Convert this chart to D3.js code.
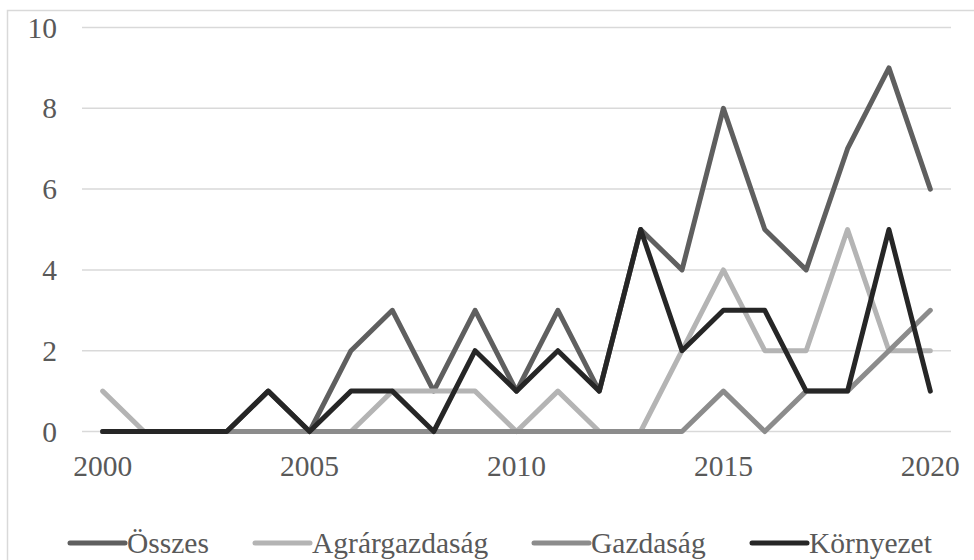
<!DOCTYPE html>
<html>
<head>
<meta charset="utf-8">
<script src="https://cdn.jsdelivr.net/npm/d3@7"></script>
<style>
  body { margin: 0; background: #fff; }
  text { font-family: "Liberation Serif", "Times New Roman", serif; fill: #595959; }
</style>
</head>
<body>
<svg id="chart" width="974" height="560"></svg>
<script>
// data
var years = d3.range(2000, 2021);
var xTickLabels = [2000, 2005, 2010, 2015, 2020];
var yTicks = [0, 2, 4, 6, 8, 10];

var osszes       = [0, 0, 0, 0, 1, 0, 2, 3, 1, 3, 1, 3, 1, 5, 4, 8, 5, 4, 7, 9, 6];
var agrargazdasag = [1, 0, 0, 0, 0, 0, 0, 1, 1, 1, 0, 1, 0, 0, 2, 4, 2, 2, 5, 2, 2];
var gazdasag     = [0, 0, 0, 0, 0, 0, 0, 0, 0, 0, 0, 0, 0, 0, 0, 1, 0, 1, 1, 2, 3];
var kornyezet    = [0, 0, 0, 0, 1, 0, 1, 1, 0, 2, 1, 2, 1, 5, 2, 3, 3, 1, 1, 5, 1];

var seriesNames = ["Összes", "Agrárgazdaság", "Gazdaság", "Környezet"];
var seriesColors = ["#5f5f5f", "#b4b4b4", "#8c8c8c", "#262626"];

var series = [osszes, agrargazdasag, gazdasag, kornyezet].map(function(v, i) {
    return { name: seriesNames[i], color: seriesColors[i], values: v };
});

var svg = d3.select("#chart");

// chart area border
svg.append("rect")
    .attr("x", 7.5).attr("y", 10.5)
    .attr("width", 980).attr("height", 600)
    .attr("fill", "none")
    .attr("stroke", "#d9d9d9")
    .attr("stroke-width", 1.5);

var x = d3.scaleBand().domain(years).range([82, 951]);
var y = d3.scaleLinear().domain([0, 10]).range([431.5, 27.5]);
var cx = function(yr) { return x(yr) + x.bandwidth() / 2; };

// gridlines
svg.append("g")
    .selectAll("line")
    .data(yTicks)
    .enter()
    .append("line")
    .attr("x1", 82).attr("x2", 951)
    .attr("y1", function(d) { return y(d); })
    .attr("y2", function(d) { return y(d); })
    .attr("stroke", "#d9d9d9")
    .attr("stroke-width", 1.5);

// y labels
svg.append("g")
    .selectAll("text")
    .data(yTicks)
    .enter()
    .append("text")
    .attr("x", 57)
    .attr("y", function(d) { return y(d) + 10; })
    .attr("text-anchor", "end")
    .attr("font-size", "29.5px")
    .text(function(d) { return d; });

// x labels
svg.append("g")
    .selectAll("text")
    .data(xTickLabels)
    .enter()
    .append("text")
    .attr("x", function(d) { return cx(d); })
    .attr("y", 476)
    .attr("text-anchor", "middle")
    .attr("font-size", "29.5px")
    .text(function(d) { return d; });

var line = d3.line()
    .x(function(d, i) { return cx(years[i]); })
    .y(function(d) { return y(d); });

svg.append("g")
    .selectAll("path")
    .data(series)
    .enter()
    .append("path")
    .attr("d", function(s) { return line(s.values); })
    .attr("fill", "none")
    .attr("stroke", function(s) { return s.color; })
    .attr("stroke-width", 5)
    .attr("stroke-linejoin", "round")
    .attr("stroke-linecap", "round");

// legend
var legendX = [70, 255, 534, 752];
var lg = svg.append("g")
    .selectAll("g")
    .data(series)
    .enter()
    .append("g")
    .attr("transform", function(d, i) { return "translate(" + legendX[i] + ",543)"; });

lg.append("line")
    .attr("x1", 0).attr("x2", 55)
    .attr("y1", 0).attr("y2", 0)
    .attr("stroke", function(d) { return d.color; })
    .attr("stroke-width", 5)
    .attr("stroke-linecap", "round");

lg.append("text")
    .attr("x", 57)
    .attr("y", 10)
    .attr("font-size", "29.5px")
    .text(function(d) { return d.name; });
</script>
</body>
</html>
